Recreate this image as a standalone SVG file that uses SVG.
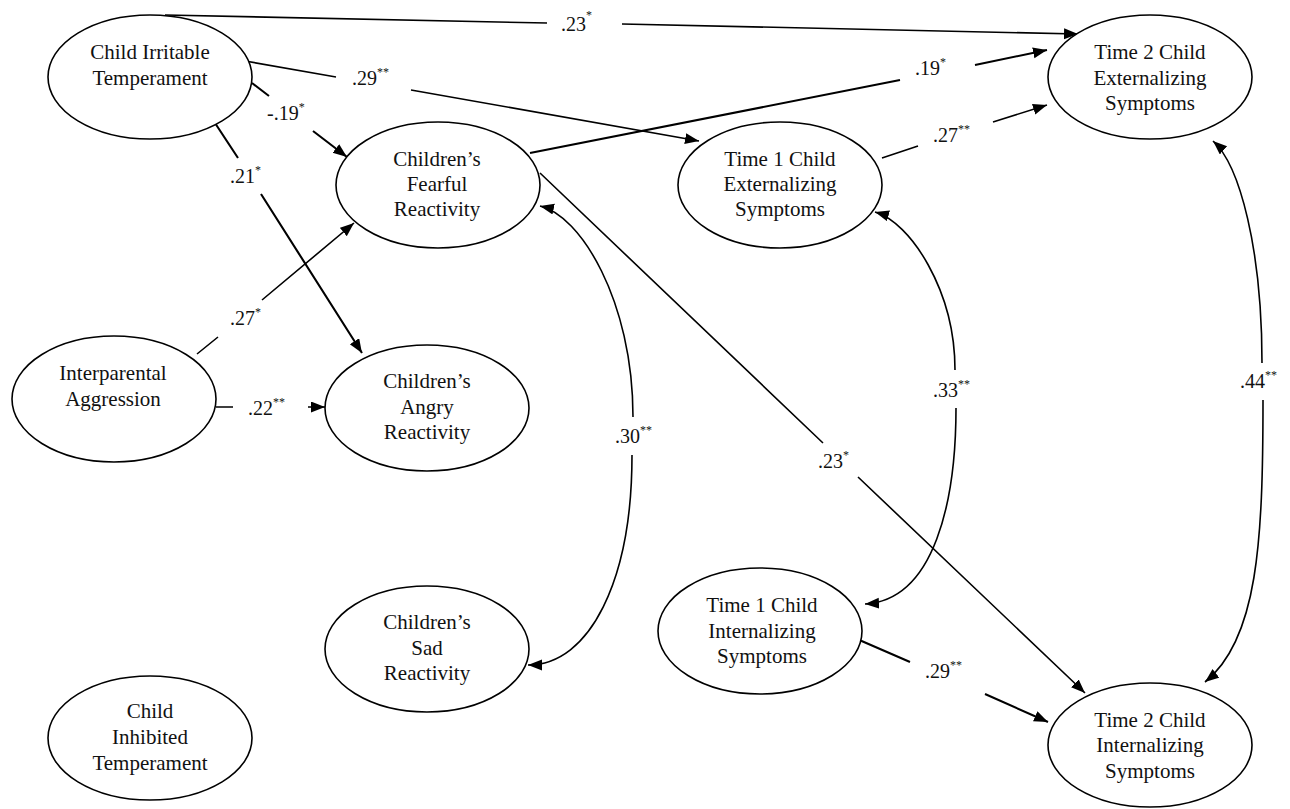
<svg xmlns="http://www.w3.org/2000/svg" width="1290" height="809" viewBox="0 0 1290 809">
<style>
.node ellipse{fill:#fff;stroke:#000;stroke-width:1.6}
.node text{font-family:"Liberation Serif","Times New Roman",serif;font-size:21px;fill:#111;text-anchor:middle}
.edge{fill:none;stroke:#000;stroke-width:1.6}
.thick{stroke-width:2.1}
.lbl{font-family:"Liberation Serif","Times New Roman",serif;font-size:20px;fill:#111}
.sup{font-size:12px}
</style>
<defs>
<marker id="ah" markerUnits="userSpaceOnUse" markerWidth="16" markerHeight="12" refX="14" refY="5.5" orient="auto-start-reverse">
<path d="M0,0 L14,5.5 L0,11 z" fill="#000"/>
</marker>
</defs>
<rect width="1290" height="809" fill="#fff"/>
<g id="connectors">
<path class="edge" d="M165,15 L547,23 M622,24 L1078,34" marker-end="url(#ah)"/>
<path class="edge" d="M245,61 L336,77 M411,90 L699,141" marker-end="url(#ah)"/>
<path class="edge thick" d="M252,83 L269,96 M313,131 L347,157" marker-end="url(#ah)"/>
<path class="edge thick" d="M215,123 L238,158 M261,194 L362,353" marker-end="url(#ah)"/>
<path class="edge" d="M197,354 L218,337 M262,300 L354,223" marker-end="url(#ah)"/>
<path class="edge" d="M216,407 L233,407 M308,407 L325,407" marker-end="url(#ah)"/>
<path class="edge thick" d="M530,153 L900,80 M975,65 L1047,50" marker-end="url(#ah)"/>
<path class="edge" d="M882,158 L918,146 M993,122 L1047,105" marker-end="url(#ah)"/>
<path class="edge" d="M540,173 L823,443 M858,477 L1085,693" marker-end="url(#ah)"/>
<path class="edge thick" d="M857,639 L910,662 M985,694 L1048,722" marker-end="url(#ah)"/>
<path class="edge" d="M540,206 C580,215 633,300 633,417 M632,455 C632,580 590,665 528,665" marker-start="url(#ah)" marker-end="url(#ah)"/>
<path class="edge" d="M875,212 C910,222 955,290 955,370 M956,408 C956,500 935,600 865,604" marker-start="url(#ah)" marker-end="url(#ah)"/>
<path class="edge" d="M1213,141 C1240,165 1262,250 1262,363 M1263,400 C1263,540 1258,640 1205,682" marker-start="url(#ah)" marker-end="url(#ah)"/>
</g>
<g id="labels">
<text class="lbl" x="561" y="31">.23<tspan class="sup" dy="-12">*</tspan></text>
<text class="lbl" x="352" y="85">.29<tspan class="sup" dy="-9">**</tspan></text>
<text class="lbl" x="267" y="120">-.19<tspan class="sup" dy="-9">*</tspan></text>
<text class="lbl" x="230" y="183">.21<tspan class="sup" dy="-9">*</tspan></text>
<text class="lbl" x="230" y="325">.27<tspan class="sup" dy="-9">*</tspan></text>
<text class="lbl" x="248" y="415">.22<tspan class="sup" dy="-9">**</tspan></text>
<text class="lbl" x="915" y="75">.19<tspan class="sup" dy="-9">*</tspan></text>
<text class="lbl" x="933" y="142">.27<tspan class="sup" dy="-9">**</tspan></text>
<text class="lbl" x="818" y="468">.23<tspan class="sup" dy="-9">*</tspan></text>
<text class="lbl" x="615" y="443">.30<tspan class="sup" dy="-9">**</tspan></text>
<text class="lbl" x="933" y="397">.33<tspan class="sup" dy="-9">**</tspan></text>
<text class="lbl" x="1240" y="388">.44<tspan class="sup" dy="-9">**</tspan></text>
<text class="lbl" x="925" y="678">.29<tspan class="sup" dy="-9">**</tspan></text>
</g>
<g id="irritable" class="node"><ellipse cx="150" cy="77" rx="102" ry="62"/><text x="150" y="59">Child Irritable</text><text x="150" y="85">Temperament</text></g>
<g id="fearful" class="node"><ellipse cx="438" cy="185" rx="102" ry="63"/><text x="437" y="166">Children’s</text><text x="437" y="191">Fearful</text><text x="437" y="216">Reactivity</text></g>
<g id="t1ext" class="node"><ellipse cx="780" cy="185" rx="102" ry="63"/><text x="780" y="166">Time 1 Child</text><text x="780" y="191">Externalizing</text><text x="780" y="216">Symptoms</text></g>
<g id="t2ext" class="node"><ellipse cx="1150" cy="77" rx="102" ry="62"/><text x="1150" y="59">Time 2 Child</text><text x="1150" y="85">Externalizing</text><text x="1150" y="110">Symptoms</text></g>
<g id="interparental" class="node"><ellipse cx="114" cy="399" rx="102" ry="63"/><text x="113" y="380">Interparental</text><text x="113" y="406">Aggression</text></g>
<g id="angry" class="node"><ellipse cx="427" cy="408" rx="102" ry="63"/><text x="427" y="388">Children’s</text><text x="427" y="414">Angry</text><text x="427" y="439">Reactivity</text></g>
<g id="sad" class="node"><ellipse cx="427" cy="649" rx="102" ry="63"/><text x="427" y="629">Children’s</text><text x="427" y="655">Sad</text><text x="427" y="680">Reactivity</text></g>
<g id="inhibited" class="node"><ellipse cx="150" cy="738" rx="102" ry="62"/><text x="150" y="718">Child</text><text x="150" y="744">Inhibited</text><text x="150" y="770">Temperament</text></g>
<g id="t1int" class="node"><ellipse cx="760" cy="631" rx="102" ry="63"/><text x="762" y="612">Time 1 Child</text><text x="762" y="638">Internalizing</text><text x="762" y="663">Symptoms</text></g>
<g id="t2int" class="node"><ellipse cx="1150" cy="745" rx="102" ry="62"/><text x="1150" y="727">Time 2 Child</text><text x="1150" y="752">Internalizing</text><text x="1150" y="778">Symptoms</text></g>
</svg>
